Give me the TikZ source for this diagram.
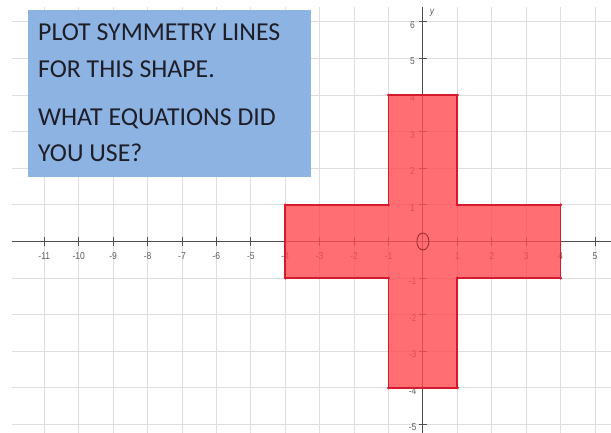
\documentclass[tikz,border=0pt]{standalone}
\usepackage{fontspec}
\setmainfont{Carlito}
\newfontfamily\tickfont[FakeStretch=0.85]{Liberation Sans}
\definecolor{gridc}{RGB}{222,222,222}
\definecolor{axisc}{RGB}{80,80,80}
\definecolor{tickc}{RGB}{95,95,95}
\definecolor{crossfill}{RGB}{255,74,80}
\definecolor{crossline}{RGB}{215,25,45}
\definecolor{boxblue}{RGB}{141,179,226}
\definecolor{textc}{RGB}{30,30,40}
\definecolor{origc}{RGB}{150,40,45}
\begin{document}
\begin{tikzpicture}[x=1pt,y=-1pt,
  gridline/.style={draw=gridc,line width=0.9pt},
  axisline/.style={draw=axisc,line width=1.1pt},
  tickmark/.style={draw=axisc,line width=0.9pt},
  ticklabel/.style={font=\tickfont\fontsize{10}{10}\selectfont,text=tickc,inner sep=0pt},
  boxtext/.style={font=\fontsize{25.8}{25.8}\selectfont,text=textc,anchor=base west,inner sep=0pt},
  cornerdot/.style={fill=crossline}]
\useasboundingbox (0,0) rectangle (611,432);
\fill[white] (0,0) rectangle (611,432);
\begin{scope}[shift={(422.9,241.5)},x=34.42pt,y=36.6pt]
  % grid
  \foreach \i in {-11,...,5} \draw[gridline] (\i,-5.35) -- (\i,6.4);
  \foreach \j in {-5,...,6} \draw[gridline] (-11.94,\j) -- (5.5,\j);
  % tick labels
  \foreach \i [count=\k] in {-11,-10,-9,-8,-7,-6,-5,-4,-3,-2,-1,1,2,3,4,5}
    \node[ticklabel] (xl\k) at (\i,-0.39) {\i};
  \foreach \j [count=\k] in {-5,-4,-3,-2,-1,1,2,3,4,5,6}
    \node[ticklabel] (yl\k) at (-0.3,\j-0.08) {\j};
  % axes
  \draw[axisline] (-11.94,0) coordinate (xa) -- (5.5,0) coordinate (xb);
  \draw[axisline] (0,-5.35) coordinate (ya) -- (0,6.4) coordinate (yb);
  \foreach \i in {-11,...,-1,1,2,...,5} \draw[tickmark] (\i,-0.11) -- (\i,0.11);
  \foreach \j in {-5,...,-1,1,2,...,6} \draw[tickmark] (-0.12,\j) -- (0.12,\j);
  % cross shape
  \path[fill=crossfill,fill opacity=0.8]
    (-1,4) -- (1,4) -- (1,1) -- (4,1) -- (4,-1) -- (1,-1) -- (1,-4)
    -- (-1,-4) -- (-1,-1) -- (-4,-1) -- (-4,1) -- (-1,1) -- cycle;
  \draw[crossline,line width=1.8pt,line join=miter]
    (-1,4) -- (1,4) -- (1,1) -- (4,1) -- (4,-1) -- (1,-1) -- (1,-4)
    -- (-1,-4) -- (-1,-1) -- (-4,-1) -- (-4,1) -- (-1,1) -- cycle;
  \foreach \p in {(-1,4),(1,4),(1,1),(4,1),(4,-1),(1,-1),(1,-4),(-1,-4),(-1,-1),(-4,-1),(-4,1),(-1,1)}
    \fill[cornerdot] \p circle [radius=1.6pt];
  % origin circle
  \draw[origc,line width=0.8pt] (0,0) ellipse [x radius=6pt, y radius=8.5pt];
\end{scope}
\node[font=\tickfont\itshape\fontsize{10}{10}\selectfont,text=tickc,inner sep=0pt] (ylab) at (432,13) {y};
% text box
\node[fill=boxblue,minimum width=283pt,minimum height=167pt,anchor=north west,inner sep=0pt] (box) at (28,10) {};
\node[boxtext] (l1) at (38,40.5) {PLOT SYMMETRY LINES};
\node[boxtext] (l2) at (38,77.5) {FOR THIS SHAPE.};
\node[boxtext] (l3) at (38,125.5) {WHAT EQUATIONS DID};
\node[boxtext] (l4) at (38,161.5) {YOU USE?};
\end{tikzpicture}
\end{document}
